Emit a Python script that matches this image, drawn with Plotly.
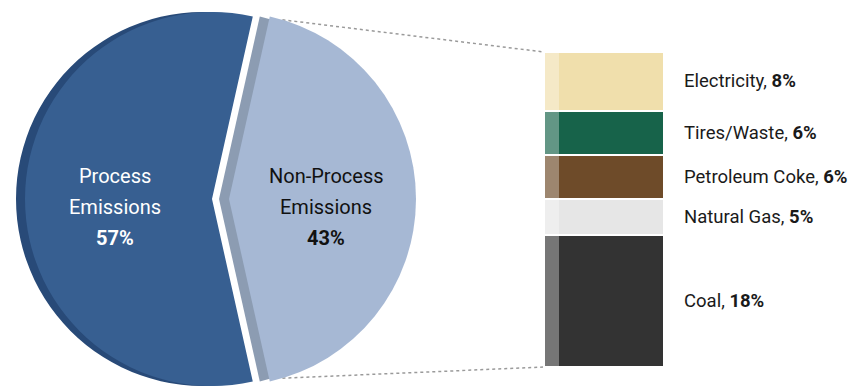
import math
import plotly.graph_objects as go

# Share of cement-plant CO2 emissions
pie_labels = ["Non-Process<br>Emissions", "Process<br>Emissions"]
pie_values = [43, 57]

# Breakdown of non-process emissions (top to bottom)
fuel_names = ["Electricity", "Tires/Waste", "Petroleum Coke", "Natural Gas", "Coal"]
fuel_values = [8, 6, 6, 5, 18]

W, H = 854, 386
FONT = "Roboto, 'Liberation Sans', Arial, sans-serif"

# colours
PROC_FRONT, PROC_SIDE = "#375F91", "#284A78"
NONP_FRONT, NONP_SIDE = "#A6B8D4", "#8C9CB2"
FUEL_COLORS = ["#F0DFAC", "#17634A", "#6E4B29", "#E6E6E6", "#333333"]
CLEAR = "rgba(0,0,0,0)"

# pie geometry (pixels, y measured from top)
R = 187
CY = 199
PROC_X, PROC_SIDE_X = 212, 203
NONP_X, NONP_SIDE_X = 229, 219

half_span = pie_values[0] / sum(pie_values) * 180.0  # half-angle of the non-process slice
rotation = 90 - half_span


def domain(cx, cy, r):
    return dict(x=[(cx - r) / W, (cx + r) / W],
                y=[(H - cy - r) / H, (H - cy + r) / H])


def pie_layer(cx, colors):
    return go.Pie(values=pie_values, labels=pie_labels, sort=False,
                  direction="clockwise", rotation=rotation,
                  marker=dict(colors=colors, line=dict(width=0)),
                  textinfo="none", hoverinfo="skip", showlegend=False,
                  domain=domain(cx, CY, R))


fig = go.Figure()
# side (depth) layers first, then faces
fig.add_trace(pie_layer(PROC_SIDE_X, [CLEAR, PROC_SIDE]))
fig.add_trace(pie_layer(NONP_SIDE_X, [NONP_SIDE, CLEAR]))
fig.add_trace(pie_layer(PROC_X, [CLEAR, PROC_FRONT]))
fig.add_trace(pie_layer(NONP_X, [NONP_FRONT, CLEAR]))

# stacked column for the fuel breakdown, bottom segment first
total = sum(fuel_values)
BAR_L, BAR_R, SIDE_W = 544, 664, 15
bar_c, bar_w = (BAR_L + BAR_R) / 2, BAR_R - BAR_L
side_c = BAR_L + SIDE_W / 2

for name, val, col in reversed(list(zip(fuel_names, fuel_values, FUEL_COLORS))):
    fig.add_trace(go.Bar(x=[bar_c], y=[val], width=[bar_w], name=name,
                         marker=dict(color=col, line=dict(color="white", width=2.5)),
                         hoverinfo="skip", showlegend=False))
# lighter left edge of the column
for name, val in reversed(list(zip(fuel_names, fuel_values))):
    fig.add_trace(go.Bar(x=[side_c], y=[val], width=[SIDE_W],
                         marker=dict(color="rgba(255,255,255,0.33)", line=dict(width=0)),
                         hoverinfo="skip", showlegend=False))

# y axis scaled so the column spans pixel rows 52..367
BAR_TOP_PX, BAR_BOT_PX = 52, 367
ppu = (BAR_BOT_PX - BAR_TOP_PX) / total
y_min = -(H - BAR_BOT_PX) / ppu
y_max = total + BAR_TOP_PX / ppu

annotations = []
# segment labels at each segment's midpoint
cum = total
for name, val in zip(fuel_names, fuel_values):
    mid = cum - val / 2
    cum -= val
    annotations.append(dict(x=682, y=mid, xref="x", yref="y", xanchor="left",
                            yanchor="middle", showarrow=False,
                            text=f"{name}, <b>{val}%</b>",
                            font=dict(family=FONT, size=18.5, color="#1a1a1a")))

# slice labels, placed along each slice's bisector
LINE_GAP = 31
for idx, (cx, bis, color) in enumerate([(NONP_X, 0.0, "#111111"), (PROC_X, 180.0, "white")]):
    lx = cx + 0.52 * R * math.cos(math.radians(bis))
    lines = pie_labels[idx].split("<br>") + [f"<b>{pie_values[idx]}%</b>"]
    for k, t in enumerate(lines):
        py = CY - 23 + k * LINE_GAP
        annotations.append(dict(x=lx / W, y=(H - py) / H, xref="paper", yref="paper",
                                xanchor="center", yanchor="middle", showarrow=False,
                                text=t, font=dict(family=FONT, size=20, color=color)))

# dotted leader lines from the non-process slice to the column
shapes = []
for sgn, yv in [(1, total), (-1, 0)]:
    ang = math.radians(sgn * (half_span - 4))
    sx = NONP_X + R * math.cos(ang)
    sy = CY - R * math.sin(ang)
    shapes.append(dict(type="line", xref="x", yref="y",
                       x0=sx, y0=total - (sy - BAR_TOP_PX) / ppu,
                       x1=BAR_L, y1=yv,
                       line=dict(color="#9a9a9a", width=1.5, dash="dot"),
                       layer="below"))

fig.update_layout(
    width=W, height=H, margin=dict(l=0, r=0, t=0, b=0),
    paper_bgcolor="white", plot_bgcolor="rgba(0,0,0,0)",
    barmode="stack", bargap=0,
    xaxis=dict(range=[0, W], visible=False, fixedrange=True),
    yaxis=dict(range=[y_min, y_max], visible=False, fixedrange=True),
    annotations=annotations, shapes=shapes,
)

fig.write_html("out.html", config={"displayModeBar": False})
